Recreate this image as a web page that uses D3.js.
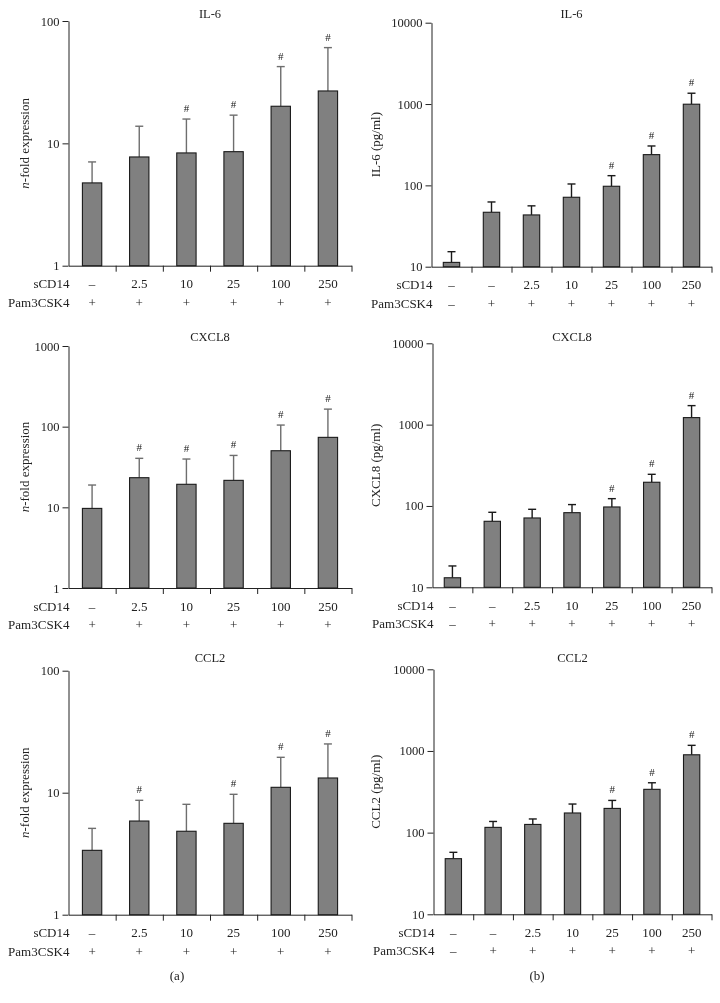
<!DOCTYPE html>
<html>
<head>
<meta charset="utf-8">
<script src="https://cdn.jsdelivr.net/npm/d3@7"></script>
<style>
  html, body { margin: 0; padding: 0; background: #fff; }
  svg { will-change: transform; -webkit-font-smoothing: antialiased; }
  svg text { font-family: "Liberation Serif", "Times New Roman", serif; fill: #222; }
</style>
</head>
<body>
<svg id="chart" width="720" height="1003"></svg>
<script>
// ---------- data ----------
const sCD14A = ["–", "2.5", "10", "25", "100", "250"];
const pamA   = ["+", "+", "+", "+", "+", "+"];
const sCD14B = ["–", "–", "2.5", "10", "25", "100", "250"];
const pamB   = ["–", "+", "+", "+", "+", "+", "+"];

const il6Fold      = [4.75, 7.74, 8.35, 8.55, 20.1, 26.8];
const il6FoldErr   = [7.05, 13.8, 15.8, 17.0, 42.4, 60.6];
const il6FoldSig   = [0, 0, 1, 1, 1, 1];

const cxcl8Fold    = [9.7, 23.3, 19.3, 21.6, 50.3, 73.7];
const cxcl8FoldErr = [18.9, 40.5, 39.7, 44.0, 104.7, 165];
const cxcl8FoldSig = [0, 1, 1, 1, 1, 1];

const ccl2Fold     = [3.37, 5.86, 4.83, 5.61, 11.07, 13.2];
const ccl2FoldErr  = [5.1, 8.66, 8.03, 9.7, 19.5, 25.1];
const ccl2FoldSig  = [0, 1, 0, 1, 1, 1];

const il6Pg        = [11.3, 46.7, 43.3, 71.4, 97.5, 238.7, 995];
const il6PgErr     = [15.3, 62.5, 56, 104, 131.6, 305, 1358];
const il6PgSig     = [0, 0, 0, 0, 1, 1, 1];

const cxcl8Pg      = [13.1, 64.8, 71.2, 82.7, 97.2, 195.7, 1220];
const cxcl8PgErr   = [18.3, 83.6, 91, 104, 123, 245, 1713];
const cxcl8PgSig   = [0, 0, 0, 0, 1, 1, 1];

const ccl2Pg       = [48, 116, 126, 174, 198, 339, 898];
const ccl2PgErr    = [57.4, 137, 147, 224, 248, 408, 1172];
const ccl2PgSig    = [0, 0, 0, 0, 1, 1, 1];

const ticksFold100  = [1, 10, 100];
const ticksFold1000 = [1, 10, 100, 1000];
const ticksPg       = [10, 100, 1000, 10000];

// ---------- panels (layout) ----------
const panels = [
  { title: "IL-6",  ylab: "fold", vals: il6Fold,   err: il6FoldErr,   sig: il6FoldSig,   cats: sCD14A, pam: pamA, ticks: ticksFold100,
    x0: 68.5, x1: 351.5, yTop: 21, yBot: 265.7, titleY: 18, errColor: "#6e6e6e" },
  { title: "IL-6",  ylab: "IL-6 (pg/ml)", vals: il6Pg, err: il6PgErr, sig: il6PgSig, cats: sCD14B, pam: pamB, ticks: ticksPg,
    x0: 431.5, x1: 711.5, yTop: 22.7, yBot: 266.7, titleY: 18, errColor: "#1a1a1a" },
  { title: "CXCL8", ylab: "fold", vals: cxcl8Fold, err: cxcl8FoldErr, sig: cxcl8FoldSig, cats: sCD14A, pam: pamA, ticks: ticksFold1000,
    x0: 68.5, x1: 351.5, yTop: 346, yBot: 588, titleY: 341, errColor: "#6e6e6e" },
  { title: "CXCL8", ylab: "CXCL8 (pg/ml)", vals: cxcl8Pg, err: cxcl8PgErr, sig: cxcl8PgSig, cats: sCD14B, pam: pamB, ticks: ticksPg,
    x0: 432.5, x1: 711.5, yTop: 343.3, yBot: 587.3, titleY: 341, errColor: "#1a1a1a" },
  { title: "CCL2",  ylab: "fold", vals: ccl2Fold,  err: ccl2FoldErr,  sig: ccl2FoldSig,  cats: sCD14A, pam: pamA, ticks: ticksFold100,
    x0: 68.5, x1: 351.5, yTop: 670.7, yBot: 914.7, titleY: 662, errColor: "#6e6e6e" },
  { title: "CCL2",  ylab: "CCL2 (pg/ml)", vals: ccl2Pg, err: ccl2PgErr, sig: ccl2PgSig, cats: sCD14B, pam: pamB, ticks: ticksPg,
    x0: 433.5, x1: 711.5, yTop: 669.3, yBot: 914.3, titleY: 662, errColor: "#1a1a1a" }
];

const svg = d3.select("#chart");

panels.forEach(p => {
  const g = svg.append("g");
  const n = p.vals.length;
  const idx = d3.range(n);
  const x = d3.scaleBand().domain(idx).range([p.x0, p.x1]).padding(0);
  const xi = d3.scaleLinear().domain([0, n]).range([p.x0, p.x1]);
  const y = d3.scaleLog().domain([p.ticks[0], p.ticks[p.ticks.length - 1]]).range([p.yBot, p.yTop]);
  const bw = x.bandwidth() * 0.41;
  const cx = i => x(i) + x.bandwidth() / 2;

  // y axis
  const ya = g.append("g").attr("transform", `translate(${p.x0},0)`)
    .call(d3.axisLeft(y).tickValues(p.ticks).tickFormat(d3.format("d")).tickSize(6).tickPadding(3).tickSizeOuter(0));
  ya.selectAll("text").style("font-size", "12.5px").attr("fill", "#222");
  ya.selectAll("line, path").attr("stroke", "#222").attr("stroke-width", 1);

  // x axis
  const xa = g.append("g").attr("transform", `translate(0,${p.yBot})`)
    .call(d3.axisBottom(xi).tickValues(d3.range(1, n + 1)).tickFormat("").tickSize(6).tickSizeOuter(0));
  xa.selectAll("line, path").attr("stroke", "#222").attr("stroke-width", 1);

  // error bars (upper only)
  const eb = g.append("g");
  idx.forEach(i => {
    eb.append("line").attr("x1", cx(i)).attr("x2", cx(i))
      .attr("y1", y(p.vals[i])).attr("y2", y(p.err[i]))
      .attr("stroke", p.errColor).attr("stroke-width", 1.4);
    eb.append("line").attr("x1", cx(i) - 4).attr("x2", cx(i) + 4)
      .attr("y1", y(p.err[i])).attr("y2", y(p.err[i]))
      .attr("stroke", p.errColor).attr("stroke-width", 1.4);
  });

  // bars
  g.append("g").selectAll("rect").data(idx).join("rect")
    .attr("x", i => cx(i) - bw / 2)
    .attr("y", i => y(p.vals[i]))
    .attr("width", bw)
    .attr("height", i => p.yBot - y(p.vals[i]))
    .attr("fill", "#808080")
    .attr("stroke", "#1a1a1a")
    .attr("stroke-width", 1.1);

  // significance marks
  g.append("g").selectAll("text").data(idx.filter(i => p.sig[i])).join("text")
    .attr("x", cx).attr("y", i => y(p.err[i]) - 7)
    .attr("text-anchor", "middle").style("font-size", "11px").text("#");

  // title
  g.append("text").attr("x", (p.x0 + p.x1) / 2).attr("y", p.titleY)
    .attr("text-anchor", "middle").style("font-size", "12.5px").text(p.title);

  // y label
  const ymid = (p.yTop + p.yBot) / 2;
  const lx = p.x0 < 200 ? 29 : 380;
  const yl = g.append("text").attr("transform", `translate(${lx},${ymid}) rotate(-90)`)
    .attr("text-anchor", "middle").style("font-size", "13px");
  if (p.ylab === "fold") {
    yl.append("tspan").style("font-style", "italic").text("n");
    yl.append("tspan").text("-fold expression");
  } else {
    yl.text(p.ylab);
  }

  // category rows
  const r1 = p.yBot + 22.5, r2 = p.yBot + 41;
  g.append("text").attr("x", p.x0 + 1).attr("y", r1).attr("text-anchor", "end").style("font-size", "13px").text("sCD14");
  g.append("text").attr("x", p.x0 + 1).attr("y", r2).attr("text-anchor", "end").style("font-size", "13px").text("Pam3CSK4");
  g.append("g").selectAll("text").data(idx).join("text")
    .attr("x", cx).attr("y", r1).attr("text-anchor", "middle").style("font-size", "13px")
    .text(i => p.cats[i]);
  g.append("g").selectAll("text").data(idx).join("text")
    .attr("x", cx).attr("y", r2).attr("text-anchor", "middle").style("font-size", "13px")
    .text(i => p.pam[i]);
});

svg.append("text").attr("x", 177).attr("y", 980).attr("text-anchor", "middle").style("font-size", "13px").text("(a)");
svg.append("text").attr("x", 537).attr("y", 980).attr("text-anchor", "middle").style("font-size", "13px").text("(b)");
</script>
</body>
</html>
